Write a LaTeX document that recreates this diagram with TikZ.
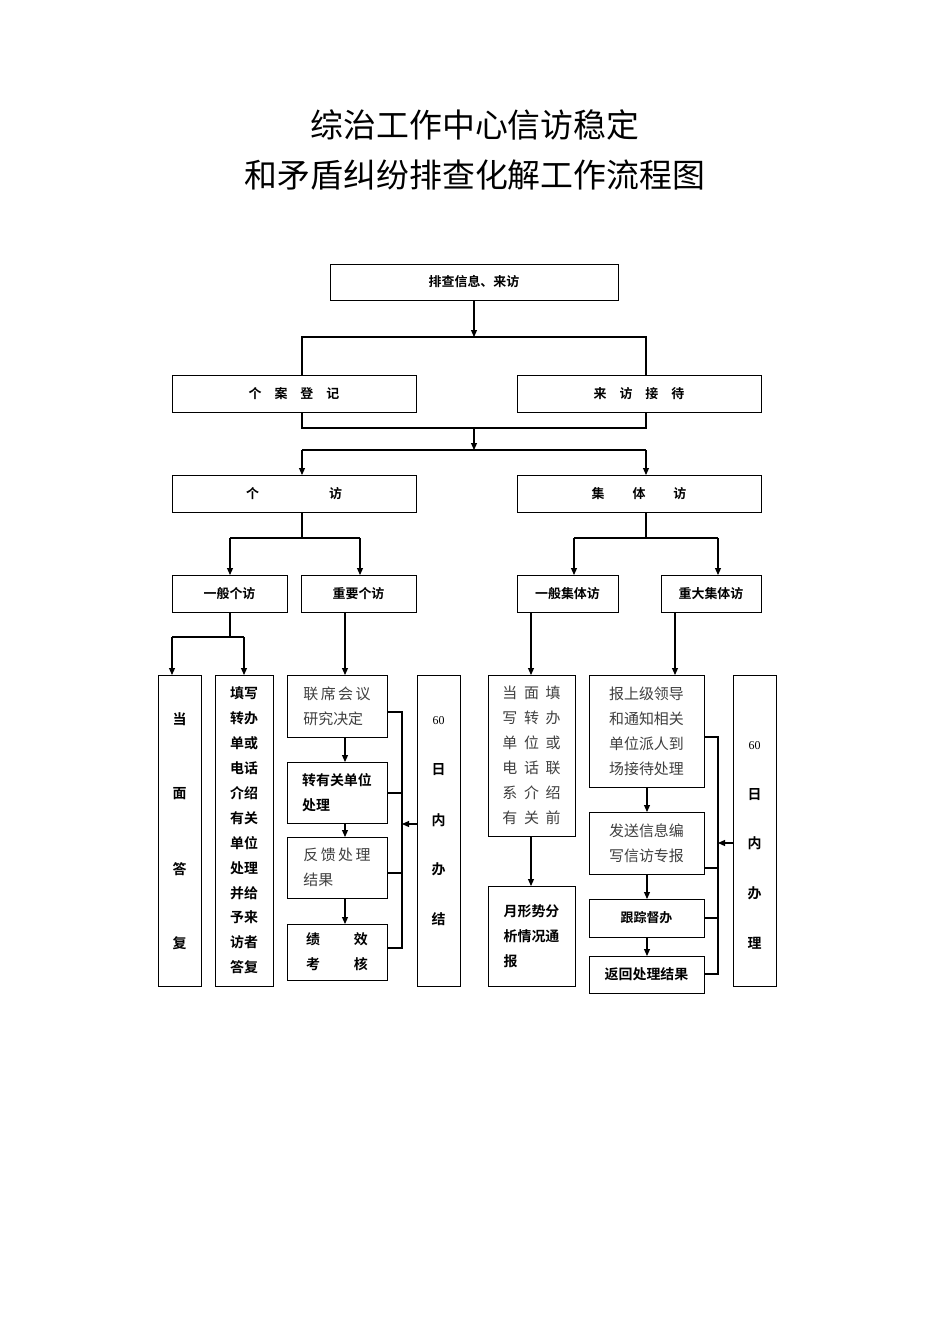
\documentclass[tikz,border=0pt]{standalone}
\usepackage{fontspec}
\setmainfont{Noto Sans CJK SC}[BoldFont={Noto Sans CJK SC Bold}]
\newfontfamily\lat{Liberation Serif}
\usetikzlibrary{shadows,arrows.meta}
\begin{document}
\begin{tikzpicture}[x=1bp,y=-1bp,
  box/.style={draw,line width=1bp,fill=white,inner sep=0pt,
    drop shadow={shadow xshift=1.2bp,shadow yshift=-1.2bp,fill=black,opacity=1},
    font=\bfseries\fontsize{13}{25}\selectfont},
  lt/.style={font=\mdseries\fontsize{15}{25}\selectfont,text=black!75,align=left},
  bt/.style={font=\bfseries\fontsize{14}{25}\selectfont,align=left},
  ln/.style={line width=1.1bp},
  arr/.style={ln,-{Triangle[length=7bp,width=6bp]}}]
\useasboundingbox (0,0) rectangle (950,1344);
\node (t1) at (475,125) {\fontsize{33}{40}\selectfont 综治工作中心信访稳定};
\node (t2) at (475,175) {\fontsize{33}{40}\selectfont 和矛盾纠纷排查化解工作流程图};
\node[box,minimum width=288bp,minimum height=36bp] (A) at (474,282) {排查信息、来访};
\node[box,minimum width=244bp,minimum height=37bp] (B1) at (294,393.5) {个\quad 案\quad 登\quad 记};
\node[box,minimum width=244bp,minimum height=37bp] (B2) at (639,393.5) {来\quad 访\quad 接\quad 待};
\node[box,minimum width=244bp,minimum height=37bp] (C1) at (294,493.5) {个\hspace{70bp}访};
\node[box,minimum width=244bp,minimum height=37bp] (C2) at (639,493.5) {集\hspace{28bp}体\hspace{28bp}访};
\node[box,minimum width=115bp,minimum height=37bp] (D1) at (229.5,593.5) {一般个访};
\node[box,minimum width=115bp,minimum height=37bp] (D2) at (358.5,593.5) {重要个访};
\node[box,minimum width=101bp,minimum height=37bp] (D3) at (567.5,593.5) {一般集体访};
\node[box,minimum width=100bp,minimum height=37bp] (D4) at (711,593.5) {重大集体访};
% left bottom
\node[box,minimum width=43bp,minimum height=311bp] (E1) at (179.5,830.5) {};
\node[bt] (e1a) at (179.5,719) {当};
\node[bt] (e1b) at (179.5,794) {面};
\node[bt] (e1c) at (179.5,869) {答};
\node[bt] (e1d) at (179.5,943) {复};
\node[box,minimum width=58bp,minimum height=311bp,font=\bfseries\fontsize{14}{25}\selectfont,align=center] (E2) at (244,830.5) {填写\\转办\\单或\\电话\\介绍\\有关\\单位\\处理\\并给\\予来\\访者\\答复};
\node[box,minimum width=100bp,minimum height=62bp,lt] (F1) at (337,706) {联\,席\,会\,议\\研究决定};
\node[box,minimum width=100bp,minimum height=61bp,bt] (F2) at (337,792.5) {转有关单位\\处理\hspace{42bp}};
\node[box,minimum width=100bp,minimum height=61bp,lt] (F3) at (337,867.5) {反\,馈\,处\,理\\结果\hspace{45bp}};
\node[box,minimum width=100bp,minimum height=56bp,bt] (F4) at (337,952) {绩\hspace{34bp}效\\考\hspace{34bp}核};
\node[box,minimum width=43bp,minimum height=311bp] (G1) at (438.5,830.5) {};
\node (g1a) at (438.5,721) {\lat\fontsize{12}{12}\selectfont 60};
\node[bt] (g1b) at (438.5,770) {日};
\node[bt] (g1c) at (438.5,820) {内};
\node[bt] (g1d) at (438.5,869) {办};
\node[bt] (g1e) at (438.5,919) {结};
% right bottom
\node[box,minimum width=87bp,minimum height=161bp,lt] (H1) at (531.5,755.5) {当\ \ 面\ \ 填\\写\ \ 转\ \ 办\\单\ \ 位\ \ 或\\电\ \ 话\ \ 联\\系\ \ 介\ \ 绍\\有\ \ 关\ \ 前};
\node[box,minimum width=87bp,minimum height=100bp,bt] (H2) at (531.5,936) {月形势分\\析情况通\\报\hspace{42bp}};
\node[box,minimum width=115bp,minimum height=112bp,lt] (I1) at (646.5,731) {报上级领导\\和通知相关\\单位派人到\\场接待处理};
\node[box,minimum width=115bp,minimum height=62bp,lt] (I2) at (646.5,843) {发送信息编\\写信访专报};
\node[box,minimum width=115bp,minimum height=38bp] (I3) at (646.5,918) {跟踪督办};
\node[box,minimum width=115bp,minimum height=37bp,font=\bfseries\fontsize{14}{25}\selectfont] (I4) at (646.5,974.5) {返回处理结果};
\node[box,minimum width=43bp,minimum height=311bp] (J1) at (754.5,830.5) {};
\node (j1a) at (754.5,746) {\lat\fontsize{12}{12}\selectfont 60};
\node[bt] (j1b) at (754.5,795) {日};
\node[bt] (j1c) at (754.5,843) {内};
\node[bt] (j1d) at (754.5,893) {办};
\node[bt] (j1e) at (754.5,943) {理};
% connectors top
\coordinate (k1) at (474,337);
\draw[arr] (A.south) -- (k1);
\draw[ln] (302,375) -- (302,337) -- (646,337) -- (646,375);
\draw[ln] (302,412) -- (302,428) -- (646,428) -- (646,412);
\coordinate (k2) at (474,428);
\coordinate (k3) at (474,450);
\draw[arr] (k2) -- (k3);
\draw[ln] (302,450) -- (646,450);
\draw[arr] (302,450) -- (302,475);
\draw[arr] (646,450) -- (646,475);
\draw[ln] (302,512) -- (302,538); \draw[ln] (230,538) -- (360,538);
\draw[arr] (230,538) -- (230,575); \draw[arr] (360,538) -- (360,575);
\draw[ln] (646,512) -- (646,538); \draw[ln] (574,538) -- (718,538);
\draw[arr] (574,538) -- (574,575); \draw[arr] (718,538) -- (718,575);
\draw[ln] (230,612) -- (230,637); \draw[ln] (172,637) -- (244,637);
\draw[arr] (172,637) -- (172,675); \draw[arr] (244,637) -- (244,675);
\draw[arr] (345,612) -- (345,675);
\draw[arr] (345,737) -- (345,762);
\draw[arr] (345,823) -- (345,837);
\draw[arr] (345,898) -- (345,924);
\draw[ln] (387,712) -- (402,712) -- (402,948) -- (387,948);
\draw[ln] (387,793) -- (402,793); \draw[ln] (387,873) -- (402,873);
\draw[arr] (G1.west |- 0,824) -- (402,824);
\draw[arr] (531,612) -- (531,675);
\draw[arr] (531,836) -- (531,886);
\draw[arr] (675,612) -- (675,675);
\draw[arr] (647,787) -- (647,812);
\draw[arr] (647,874) -- (647,899);
\draw[arr] (647,937) -- (647,956);
\draw[ln] (704,737) -- (718,737) -- (718,974) -- (704,974);
\draw[ln] (704,868) -- (718,868); \draw[ln] (704,918) -- (718,918);
\draw[arr] (J1.west |- 0,843) -- (718,843);
\end{tikzpicture}
\end{document}
